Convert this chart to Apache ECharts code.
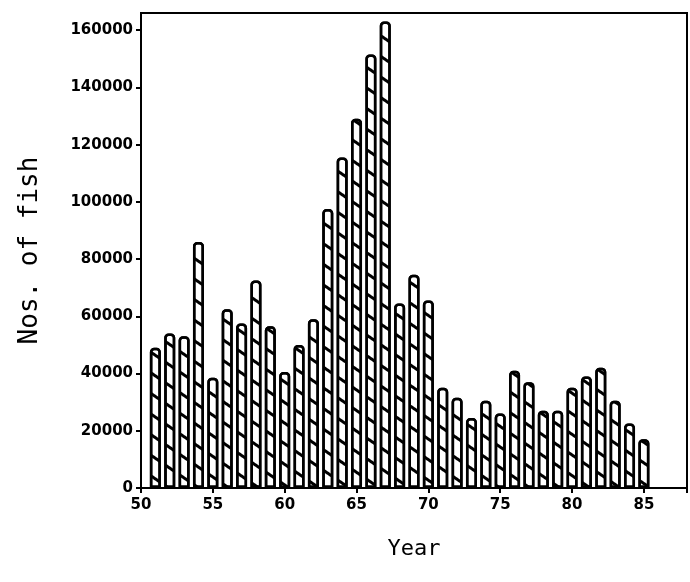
<!DOCTYPE html>
<html>
<head>
<meta charset="utf-8">
<script src="https://cdn.jsdelivr.net/npm/echarts@6/dist/echarts.min.js"></script>
<style>html,body{margin:0;padding:0;background:#fff}#c{width:690px;height:582px}</style>
</head>
<body>
<div id="c"></div>
<script>
const years = [1951,1952,1953,1954,1955,1956,1957,1958,1959,1960,1961,1962,1963,1964,1965,1966,1967,1968,1969,1970,1971,1972,1973,1974,1975,1976,1977,1978,1979,1980,1981,1982,1983,1984,1985];
const fish = [49000,54000,53000,86000,38500,62500,57500,72500,56500,40500,50000,59000,97500,115500,129000,151500,163000,64500,74500,65500,35000,31500,24500,30500,26000,41000,37000,27000,27000,35000,39000,42000,30500,22500,17000];
const xTickLabels = ['50','55','60','65','70','75','80','85'];
const yTicks = [0,20000,40000,60000,80000,100000,120000,140000,160000];

const chart = echarts.init(document.getElementById('c'));
const tickFont = {fontFamily:'DejaVu Sans', fontWeight:'bold', fontSize:15, color:'#000'};
chart.setOption({
  animation:false,
  backgroundColor:'#fff',
  grid:{left:141, right:-10, top:13, bottom:94, show:true, borderColor:'#000', borderWidth:2, backgroundColor:'transparent'},
  xAxis:{
    type:'value', min:1950, max:1988, interval:5,
    axisLine:{show:true, lineStyle:{color:'#000', width:2}},
    axisTick:{show:true, length:5, lineStyle:{color:'#000', width:2}},
    splitLine:{show:false},
    axisLabel:Object.assign({margin:10, formatter:function(v){const s=String(v%100); return xTickLabels.indexOf(s)>=0?s:'';}}, tickFont),
    name:'Year', nameLocation:'middle', nameGap:50,
    nameTextStyle:{fontFamily:'DejaVu Sans Mono', fontSize:22, color:'#000'}
  },
  yAxis:{
    type:'value', min:0, max:166000, interval:20000,
    axisLine:{show:true, lineStyle:{color:'#000', width:2}},
    axisTick:{show:true, length:5, lineStyle:{color:'#000', width:2}},
    splitLine:{show:false},
    axisLabel:Object.assign({margin:8, showMaxLabel:false, formatter:function(v){return yTicks.indexOf(v)>=0?String(v):'';}}, tickFont),
    name:'Nos. of fish', nameLocation:'middle', nameGap:98, nameRotate:90,
    nameTextStyle:{fontFamily:'DejaVu Sans Mono', fontSize:26, color:'#000'}
  },
  series:[{
    type:'bar',
    barWidth:11,
    data:years.map(function(y,i){return [y, fish[i]];}),
    itemStyle:{
      color:'#fff', borderColor:'#000', borderWidth:2.5, borderRadius:[3,3,0,0],
      decal:{symbol:'rect', symbolSize:1, color:'#000', dashArrayX:[1,0], dashArrayY:[2.5,14], rotation:0.6}
    }
  }]
});
</script>
</body>
</html>
